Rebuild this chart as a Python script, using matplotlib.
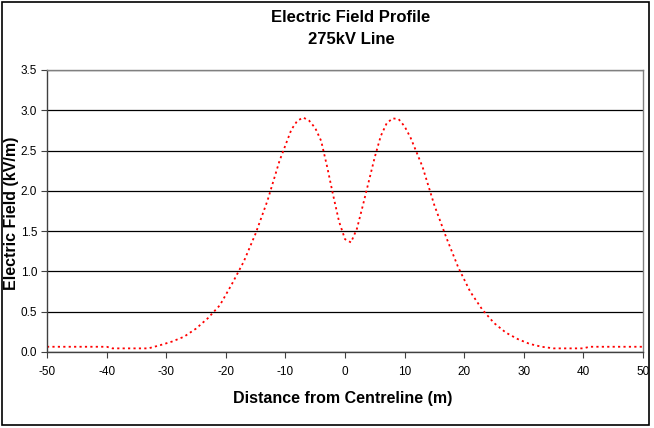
import matplotlib
matplotlib.use("Agg")
import matplotlib.pyplot as plt
from matplotlib.patches import Rectangle

# ------------------------------- Data ------------------------------- #
distance = [-50, -45, -40, -39, -35, -33, -31, -29, -27, -25, -23, -21, -19,
            -17, -15, -13, -11, -9, -8, -7, -6, -5, -4, -3, -2, -1, 0, 1, 2,
            3, 4, 5, 6, 7, 8, 9, 10, 11, 13, 15, 17, 19, 21, 23, 25, 27, 29,
            31, 33, 35, 40, 41, 45, 50]
field = [0.065, 0.065, 0.065, 0.045, 0.045, 0.045, 0.085, 0.13, 0.19, 0.29,
         0.42, 0.58, 0.84, 1.12, 1.47, 1.88, 2.37, 2.76, 2.87, 2.91, 2.87,
         2.78, 2.62, 2.30, 1.95, 1.62, 1.40, 1.36, 1.53, 1.82, 2.12, 2.42,
         2.68, 2.84, 2.90, 2.89, 2.80, 2.66, 2.30, 1.82, 1.42, 1.05, 0.75,
         0.53, 0.36, 0.24, 0.16, 0.10, 0.065, 0.045, 0.045, 0.065, 0.065,
         0.065]
x_ticks = [-50, -40, -30, -20, -10, 0, 10, 20, 30, 40, 50]
y_ticks = [0.0, 0.5, 1.0, 1.5, 2.0, 2.5, 3.0, 3.5]

plt.rcParams['font.family'] = ['Liberation Sans', 'DejaVu Sans']
plt.rcParams['axes.unicode_minus'] = False

# ------------------------------ Figure ------------------------------ #
fig = plt.figure(figsize=(6.54, 4.28), dpi=100)
ax = fig.add_axes([47 / 654, 1 - 352 / 428, 596 / 654, 282 / 428])

ax.plot(distance, field, color="red", lw=1.3, linestyle=(0, (1.2, 1.8)))

ax.set_xlim(-50, 50)
ax.set_ylim(0, 3.5)
ax.set_xticks(x_ticks)
ax.set_yticks(y_ticks)
ax.set_yticklabels([f"{v:.1f}" for v in y_ticks])
ax.tick_params(labelsize=8.5, length=4, width=0.8, color="#404040", pad=3)
ax.tick_params(axis="x", pad=6)
ax.grid(axis="y", color="black", lw=0.9)
ax.set_axisbelow(True)
for side in ax.spines:
    ax.spines[side].set_color("#808080")
    ax.spines[side].set_linewidth(1.0)
ax.spines["left"].set_color("#404040")
ax.spines["bottom"].set_color("#404040")

ax.set_xlabel("Distance from Centreline (m)", fontsize=11.5, fontweight="bold")
ax.xaxis.set_label_coords((343 - 47) / 596, -(399 - 352) / 282)
ax.set_ylabel("Electric Field (kV/m)", fontsize=11.5, fontweight="bold")
ax.yaxis.set_label_coords(-(47 - 12) / 596, (352 - 213) / 282)
ax.xaxis.label.set_va("center")
ax.yaxis.label.set_va("center")

fig.text(351 / 654, 1 - 17 / 428, "Electric Field Profile", ha="center",
         va="center", fontsize=12, fontweight="bold")
fig.text(351 / 654, 1 - 40 / 428, "275kV Line", ha="center", va="center",
         fontsize=12, fontweight="bold")

# chart frame
fig.patches.append(Rectangle((1.5 / 654, 1 - 425 / 428), 647 / 654, 423 / 428,
                             transform=fig.transFigure, fill=False,
                             edgecolor="black", lw=1.2))

fig.savefig("out.png", dpi=100)
